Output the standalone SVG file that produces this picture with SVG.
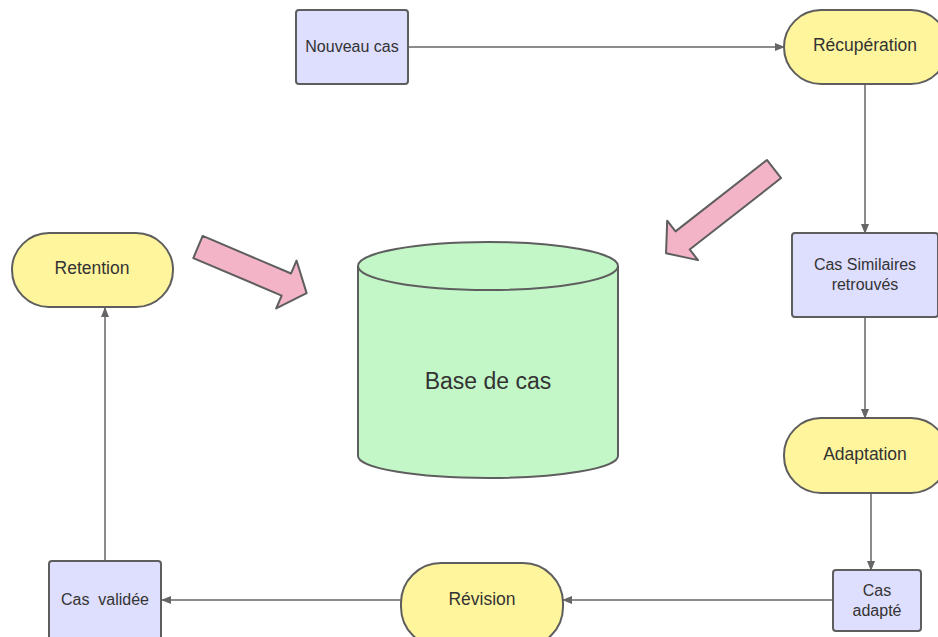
<svg xmlns="http://www.w3.org/2000/svg" width="938" height="637" viewBox="0 0 938 637">
<defs>
<style>
.box{fill:#dedeff;stroke:#5e5e5e;stroke-width:2}
.term{fill:#fff59d;stroke:#5e5e5e;stroke-width:2}
.db{fill:#c3f7c8;stroke:#5e5e5e;stroke-width:2}
.big{fill:#f4b4c8;stroke:#5e5e5e;stroke-width:2;stroke-linejoin:round}
.conn{fill:none;stroke:#666;stroke-width:1.5}
text{font-family:"Liberation Sans",Arial,sans-serif;fill:#333;text-anchor:middle;dominant-baseline:central}
.t16{font-size:16px}
.t17{font-size:17.5px}
.t23{font-size:23px}
</style>
<marker id="ah" markerWidth="10" markerHeight="8" refX="9" refY="4" orient="auto" markerUnits="userSpaceOnUse">
<path d="M0,0 L10,4 L0,8 Z" fill="#666"/>
</marker>
</defs>
<rect width="938" height="637" fill="#ffffff"/>

<g id="connectors">
<line class="conn" x1="408" y1="47" x2="784" y2="47" marker-end="url(#ah)"/>
<line class="conn" x1="865" y1="84" x2="865" y2="233" marker-end="url(#ah)"/>
<line class="conn" x1="865" y1="318" x2="865" y2="418" marker-end="url(#ah)"/>
<line class="conn" x1="871" y1="493" x2="871" y2="570" marker-end="url(#ah)"/>
<line class="conn" x1="833" y1="600" x2="563" y2="600" marker-end="url(#ah)"/>
<line class="conn" x1="401" y1="600" x2="162" y2="600" marker-end="url(#ah)"/>
<line class="conn" x1="105" y1="561" x2="105" y2="308" marker-end="url(#ah)"/>
</g>

<g id="nouveau-cas">
<rect class="box" x="296" y="10" width="112" height="74" rx="3"/>
<text class="t16" x="352" y="46">Nouveau cas</text>
</g>

<g id="recuperation">
<rect class="term" x="784" y="10" width="164" height="74" rx="37"/>
<text class="t17" x="865" y="45">Récupération</text>
</g>

<g id="cas-similaires">
<rect class="box" x="792" y="233" width="146" height="84" rx="3"/>
<text class="t16" x="865" y="264">Cas Similaires</text>
<text class="t16" x="865" y="284">retrouvés</text>
</g>

<g id="adaptation">
<rect class="term" x="784" y="418" width="164" height="75" rx="37"/>
<text class="t17" x="865" y="454">Adaptation</text>
</g>

<g id="cas-adapte">
<rect class="box" x="833" y="570" width="88" height="61" rx="3"/>
<text class="t16" x="877" y="590">Cas</text>
<text class="t16" x="877" y="610">adapté</text>
</g>

<g id="revision">
<rect class="term" x="401" y="563" width="162" height="84" rx="40"/>
<text class="t17" x="482" y="599">Révision</text>
</g>

<g id="cas-validee">
<rect class="box" x="49" y="561" width="112" height="86" rx="3"/>
<text class="t16" x="105" y="599" xml:space="preserve">Cas  validée</text>
</g>

<g id="retention">
<rect class="term" x="12" y="233" width="161" height="74" rx="37"/>
<text class="t17" x="92" y="268">Retention</text>
</g>

<g id="base-de-cas">
<path class="db" d="M358,266 A130,24 0 0 1 618,266 L618,456 A130,22 0 0 1 358,456 Z"/>
<path class="db" d="M358,266 A130,24 0 0 0 618,266" fill="none" style="fill:none"/>
<text class="t23" x="488" y="381">Base de cas</text>
</g>

<g id="arrow-left">
<polygon class="big" transform="translate(198,247) rotate(23)" points="0,-12 96,-12 96,-26 118,0 96,26 96,12 0,12"/>
</g>

<g id="arrow-right">
<polygon class="big" transform="translate(774,169) rotate(142)" points="0,-11.5 116,-11.5 116,-25 137,0 116,25 116,11.5 0,11.5"/>
</g>
</svg>
